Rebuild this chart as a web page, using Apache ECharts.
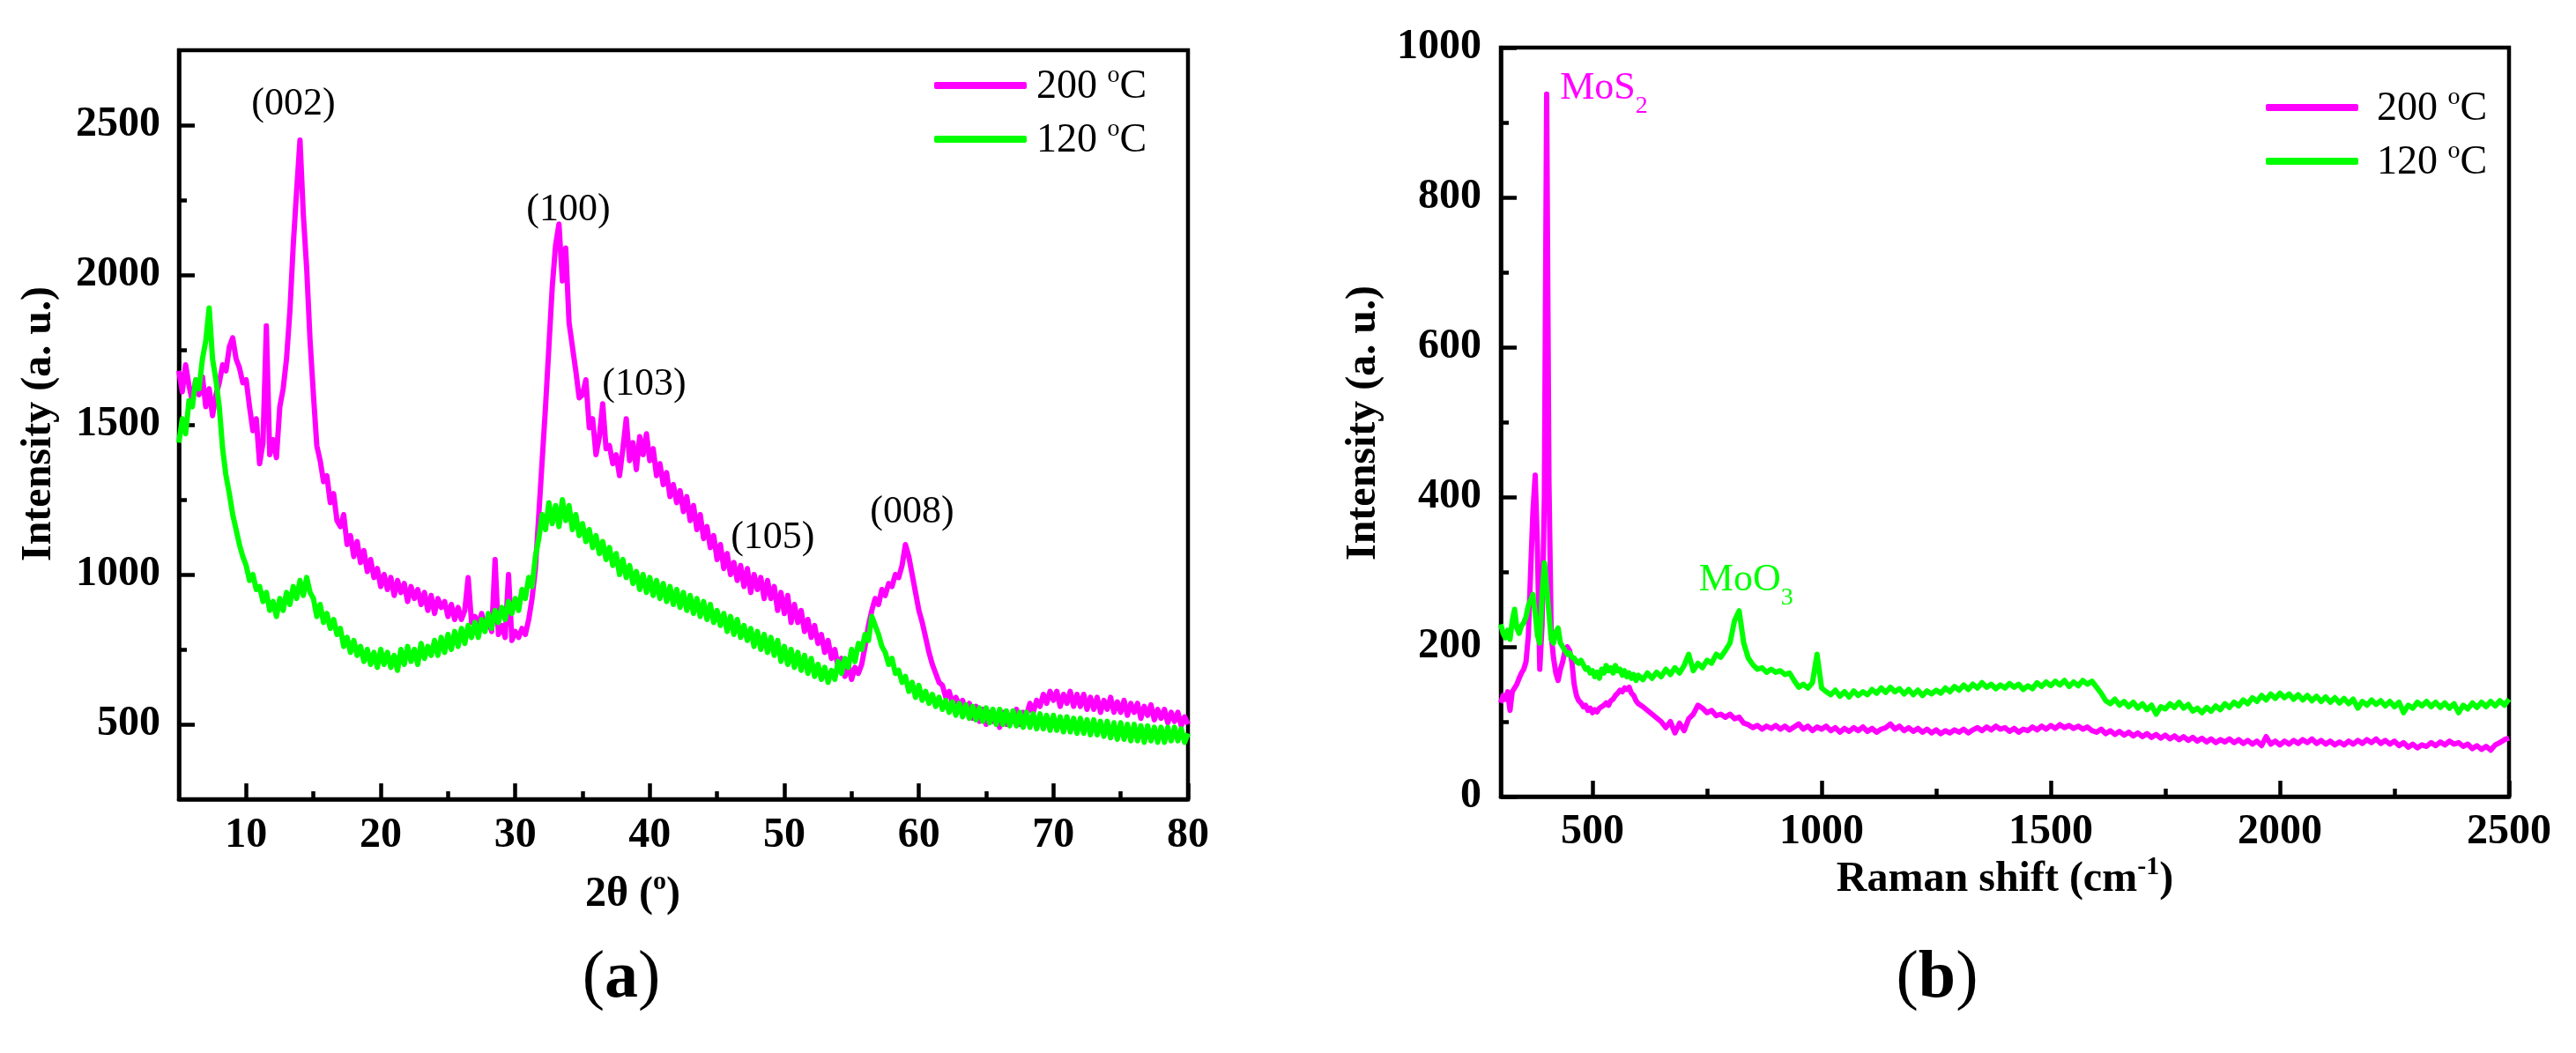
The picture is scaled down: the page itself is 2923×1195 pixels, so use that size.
<!DOCTYPE html>
<html>
<head>
<meta charset="utf-8">
<script src="https://cdn.jsdelivr.net/npm/echarts@6/dist/echarts.min.js"></script>
<style>
html,body{margin:0;padding:0;background:#fff;}
#c{width:2923px;height:1195px;}
</style>
</head>
<body>
<div id="c"></div>
<script>
// ---------------- DATA ----------------
const seriesNames = ['200 °C', '120 °C'];

// XRD: 2θ sampling grid (start, step)
const xrdStart = 5, xrdStep = 0.25;
const xrd200 = [
1680,1610,1700,1630, 1580,1650,1600,1660, 1560,1620,1530,1600, 1640,1700,1680,1760,
1790,1720,1690,1640, 1650,1560,1480,1520, 1370,1440,1830,1400, 1450,1390,1560,1620,
1720,1880,2100,2280, 2450,2200,2020,1780, 1600,1430,1380,1310, 1330,1240,1270,1180,
1160,1200,1100,1130, 1060,1110,1040,1080, 1010,1050,990,1020, 960,1000,950,990,
930,980,940,970, 910,960,920,950, 900,940,880,930, 870,920,890,910,
860,900,850,890, 850,880,990,840, 860,830,870,820, 850,810,1050,800,
830,790,1000,780, 810,790,820,800, 850,920,1020,1200, 1380,1560,1760,1960,
2100,2170,1980,2090, 1840,1760,1680,1590, 1600,1650,1490,1520, 1400,1460,1570,1420,
1430,1370,1400,1330, 1420,1520,1380,1440, 1350,1460,1400,1470, 1380,1420,1330,1370,
1300,1340,1260,1300, 1240,1280,1210,1260, 1180,1230,1150,1200, 1120,1160,1090,1130,
1050,1100,1020,1070, 1000,1040,980,1030, 960,1020,940,1000, 950,990,920,980,
920,960,880,940, 870,930,840,900, 840,880,810,850, 790,830,770,800,
740,780,720,750, 690,720,660,700, 650,690,670,700, 760,830,880,920,
900,950,930,970, 960,1000,990,1030, 1100,1060,1000,940, 880,840,790,740,
700,670,640,630, 590,610,570,590, 560,580,540,570, 520,560,510,550,
500,540,510,530, 490,540,500,530, 510,550,500,540, 530,570,540,580,
560,600,570,610, 580,610,560,600, 570,610,560,600, 560,600,550,590,
550,590,540,580, 550,590,540,575, 540,580,530,570, 540,570,520,560,
530,565,515,550, 520,550,505,540, 510,540,495,525, 500
];
const xrd120 = [
1440,1520,1470,1580, 1560,1650,1620,1720, 1780,1890,1720,1650, 1560,1420,1330,1270,
1200,1150,1100,1060, 1030,980,1000,950, 960,910,940,880, 910,860,920,880,
940,900,960,920, 980,930,990,940, 920,860,900,840, 870,820,850,800,
820,760,790,740, 780,730,760,710, 750,700,740,690, 750,700,740,690,
730,680,750,700, 760,710,750,700, 770,720,760,730, 780,730,790,740,
800,750,810,760, 820,770,830,790, 840,790,850,810, 870,820,880,840,
890,850,910,870, 920,880,950,920, 990,960,1060,1120, 1200,1150,1240,1170,
1230,1160,1250,1180, 1230,1150,1200,1130, 1170,1110,1150,1090, 1130,1070,1110,1050,
1090,1030,1070,1000, 1050,990,1030,970, 1010,950,1000,940, 990,930,980,920,
970,910,960,900, 950,890,940,880, 930,870,920,860, 910,850,900,840,
880,830,870,810, 860,800,850,790, 830,780,820,760, 810,750,800,740,
790,730,780,710, 760,700,750,690, 740,680,730,670, 720,660,700,650,
690,640,680,650, 710,670,720,690, 750,710,770,750, 800,780,860,830,
800,760,740,700, 720,670,680,640, 660,610,640,590, 630,580,610,570,
600,560,590,550, 580,540,575,530, 570,525,565,520, 560,515,555,510,
555,505,550,500, 550,500,545,495, 545,495,540,490, 540,490,535,485,
535,485,530,480, 530,480,525,475, 525,475,520,470, 520,470,515,465,
515,465,510,460, 510,455,505,450, 505,450,500,445, 500,445,495,440,
495,445,490,440, 490,440,490,445, 490,445,485,440, 470
];

// Raman: sampling segments [from, to, step] in cm-1
const ramanSegments = [[300, 600, 5], [610, 2500, 10]];
const raman200 = [
125,135,130,140,115,140,145,150,158,165,
170,180,215,300,380,429,330,170,230,400,
938,420,215,185,165,155,170,180,195,200,
195,180,150,135,128,125,120,122,115,118,
112,116,113,118,120,122,125,122,128,130,
135,138,142,140,145,143,146,138,135,128,
124,
120,115,110,105,100,92,100,85,98,88,
104,110,122,118,112,115,108,110,106,110,
104,106,98,96,92,95,90,94,91,95,
90,94,89,93,97,90,94,88,93,90,
94,88,92,86,91,87,92,88,93,87,
91,86,90,92,97,90,94,88,92,87,
91,86,90,85,89,84,88,85,89,86,
90,85,89,92,88,93,89,94,90,92,
87,91,86,90,88,93,89,94,90,95,
91,96,92,95,91,94,90,93,88,86,
90,84,88,83,87,82,86,81,85,80,
84,79,83,78,82,77,81,76,80,75,
79,74,78,73,77,72,76,73,77,72,
76,71,75,70,74,68,80,70,74,69,
74,70,75,71,76,72,77,71,75,70,
74,69,73,69,74,70,75,71,76,72,
77,71,75,70,74,68,72,66,70,65,
69,67,72,68,73,69,74,70,72,67,
70,64,68,63,67,62,69,72,76,78
];
const raman120 = [
230,218,212,222,210,235,250,225,218,228,
232,240,255,262,270,245,215,205,270,312,
280,245,210,205,220,225,205,200,195,190,
192,186,185,180,178,182,176,170,172,165,
168,160,166,158,170,165,175,168,172,165,
175,168,170,162,168,160,165,158,163,155,
162,
156,165,158,166,160,170,163,172,165,175,
190,168,178,172,182,178,190,186,195,205,
235,248,205,185,176,170,172,166,170,166,
168,163,165,155,146,150,145,152,190,145,
140,136,142,134,140,133,141,135,140,136,
143,138,145,139,146,140,144,137,143,136,
142,135,141,137,142,138,145,140,147,142,
149,143,150,145,152,146,150,144,149,145,
151,146,150,143,148,144,152,147,153,148,
154,149,155,147,153,148,155,150,154,146,
138,128,124,130,122,127,120,126,118,124,
116,122,110,120,117,124,119,126,118,123,
114,118,112,119,114,121,116,124,119,126,
121,129,124,132,127,135,129,137,131,138,
132,137,130,136,129,135,128,134,127,133,
126,132,125,131,124,130,118,127,122,129,
123,128,121,127,120,126,112,122,118,126,
121,127,120,126,119,125,118,124,112,122,
117,125,119,126,120,127,121,128,122,130
];

// Axis ticks
const xrdXMajor = [10, 20, 30, 40, 50, 60, 70, 80];
const xrdXMinor = [15, 25, 35, 45, 55, 65, 75];
const xrdYMajor = [500, 1000, 1500, 2000, 2500];
const xrdYMinor = [750, 1250, 1750, 2250];
const ramanXMajor = [500, 1000, 1500, 2000, 2500];
const ramanXMinor = [750, 1250, 1750, 2250];
const ramanYMajor = [0, 200, 400, 600, 800, 1000];
const ramanYMinor = [100, 300, 500, 700, 900];

const xrdPeakLabels = ['(002)', '(100)', '(103)', '(105)', '(008)'];
const ramanBandLabels = [['MoS', '2'], ['MoO', '3']];

// ---------------- BUILD ----------------
const xrdX = xrd200.map((_, i) => +(xrdStart + i * xrdStep).toFixed(2));
function buildGrid(segs) {
  const out = [];
  segs.forEach(([a, b, s]) => { for (let v = a; v <= b + 1e-9; v += s) out.push(v); });
  return out;
}
const ramanX = buildGrid(ramanSegments);
const pairs = (xs, ys) => ys.map((y, i) => [xs[i], y]);

const MAG = '#ff00ff', GRN = '#00ff00';
const SERIF = 'Liberation Serif';
const AXW = 4.5;
const tickFont = { fontFamily: SERIF, fontWeight: 'bold', fontSize: 48, color: '#000' };

function mainAxis(gi, min, max, major, margin) {
  return {
    type: 'value', gridIndex: gi, min: min, max: max,
    axisLine: { show: true, onZero: false, lineStyle: { color: '#000', width: AXW } },
    axisTick: { show: true, inside: true, length: 18, customValues: major, lineStyle: { color: '#000', width: AXW } },
    axisLabel: Object.assign({ show: true, customValues: major, margin: margin, formatter: v => String(v) }, tickFont),
    splitLine: { show: false }
  };
}
function minorAxis(gi, min, max, minor, pos) {
  return {
    type: 'value', gridIndex: gi, min: min, max: max, position: pos,
    axisLine: { show: false, onZero: false },
    axisTick: { show: true, inside: true, length: 9, customValues: minor, lineStyle: { color: '#000', width: AXW } },
    axisLabel: { show: false },
    splitLine: { show: false }
  };
}
function lineSeries(name, xi, yi, data, color) {
  return {
    type: 'line', name: name, xAxisIndex: xi, yAxisIndex: yi, data: data,
    showSymbol: false, symbol: 'none', smooth: false, animation: false,
    lineStyle: { color: color, width: 6, join: 'round' }, itemStyle: { color: color }
  };
}
const supRich = {
  t: { fontFamily: SERIF, fontSize: 46, color: '#000', verticalAlign: 'bottom' },
  sup: { fontFamily: SERIF, fontSize: 28, color: '#000', padding: [0, 0, 22, 0], verticalAlign: 'top' }
};
function legendCfg(left, top, padLeft) {
  return {
    orient: 'vertical', left: left, top: top, padding: 0,
    itemWidth: 105, itemHeight: 8, itemGap: 11, icon: 'roundRect',
    data: seriesNames, selectedMode: false,
    formatter: n => { const p = n.split('°'); return '{t|' + p[0] + '}{sup|o}{t|' + p[1] + '}'; },
    textStyle: { fontFamily: SERIF, fontSize: 46, color: '#000', padding: [0, 0, 0, padLeft], rich: supRich }
  };
}

const chart = echarts.init(document.getElementById('c'), null, { renderer: 'canvas' });
const option = {
  backgroundColor: '#fff',
  animation: false,
  grid: [
    { left: 203, top: 57, right: 1575, bottom: 288, show: true, borderColor: '#000', borderWidth: AXW, containLabel: false },
    { left: 1703, top: 54, right: 76, bottom: 291, show: true, borderColor: '#000', borderWidth: AXW, containLabel: false }
  ],
  xAxis: [
    mainAxis(0, 5, 80, xrdXMajor, 18),
    minorAxis(0, 5, 80, xrdXMinor, 'bottom'),
    mainAxis(1, 300, 2500, ramanXMajor, 17),
    minorAxis(1, 300, 2500, ramanXMinor, 'bottom')
  ],
  yAxis: [
    mainAxis(0, 250, 2750, xrdYMajor, 21),
    minorAxis(0, 250, 2750, xrdYMinor, 'left'),
    mainAxis(1, 0, 1000, ramanYMajor, 22),
    minorAxis(1, 0, 1000, ramanYMinor, 'left')
  ],
  legend: [legendCfg(1060, 72, 6), legendCfg(2571, 97, 16)],
  series: [
    lineSeries(seriesNames[0], 0, 0, pairs(xrdX, xrd200), MAG),
    lineSeries(seriesNames[1], 0, 0, pairs(xrdX, xrd120), GRN),
    lineSeries(seriesNames[0], 2, 2, pairs(ramanX, raman200), MAG),
    lineSeries(seriesNames[1], 2, 2, pairs(ramanX, raman120), GRN)
  ]
};
chart.setOption(option);

// ---------------- TEXT ANNOTATIONS ----------------
const px = (si, x, y) => chart.convertToPixel({ seriesIndex: si }, [x, y]);
const peakAt = [[13.51, 2570], [33.95, 2215], [39.58, 1635], [49.14, 1123], [59.49, 1209]];
const bandAt = [[429.3, 971], [732.3, 315]];
const bandColor = [MAG, GRN];
const g = [];
xrdPeakLabels.forEach((t, i) => {
  const p = px(0, peakAt[i][0], peakAt[i][1]);
  g.push({ type: 'text', x: p[0], y: p[1], silent: true,
    style: { text: t, fontFamily: SERIF, fontSize: 44, fill: '#000', align: 'center', verticalAlign: 'middle' } });
});
ramanBandLabels.forEach((t, i) => {
  const p = px(2, bandAt[i][0], bandAt[i][1]);
  g.push({ type: 'text', x: p[0], y: p[1], silent: true,
    style: { text: '{m|' + t[0] + '}{s|' + t[1] + '}', align: 'left', verticalAlign: 'top', fill: bandColor[i],
      rich: {
        m: { fontFamily: SERIF, fontSize: 44, color: bandColor[i], verticalAlign: 'top' },
        s: { fontFamily: SERIF, fontSize: 28, color: bandColor[i], padding: [28, 0, 0, 0], verticalAlign: 'bottom' }
      } } });
});
const boldRich = {
  t: { fontFamily: SERIF, fontWeight: 'bold', fontSize: 48, color: '#000', verticalAlign: 'bottom' },
  sup: { fontFamily: SERIF, fontWeight: 'bold', fontSize: 30, color: '#000', padding: [0, 0, 24, 0], verticalAlign: 'top' }
};
const yTitle = (x, y) => ({ type: 'text', x: x, y: y, rotation: Math.PI / 2, silent: true,
  style: { text: 'Intensity (a. u.)', fontFamily: SERIF, fontWeight: 'bold', fontSize: 48, fill: '#000', align: 'center', verticalAlign: 'middle' } });
g.push(yTitle(45, 481));
g.push(yTitle(1548, 480));
g.push({ type: 'text', x: 718, y: 986, silent: true,
  style: { text: '{t|2θ (}{sup|o}{t|)}', align: 'center', verticalAlign: 'top', rich: boldRich } });
g.push({ type: 'text', x: 2275, y: 969, silent: true,
  style: { text: '{t|Raman shift (cm}{sup|-1}{t|)}', align: 'center', verticalAlign: 'top', rich: boldRich } });
const panelRich = {
  p: { fontFamily: SERIF, fontSize: 76, color: '#000' },
  b: { fontFamily: SERIF, fontSize: 76, fontWeight: 'bold', color: '#000' }
};
g.push({ type: 'text', x: 705, y: 1111, silent: true,
  style: { text: '{p|(}{b|a}{p|)}', align: 'center', verticalAlign: 'middle', rich: panelRich } });
g.push({ type: 'text', x: 2198, y: 1111, silent: true,
  style: { text: '{p|(}{b|b}{p|)}', align: 'center', verticalAlign: 'middle', rich: panelRich } });
chart.setOption({ graphic: g });
</script>
</body>
</html>
